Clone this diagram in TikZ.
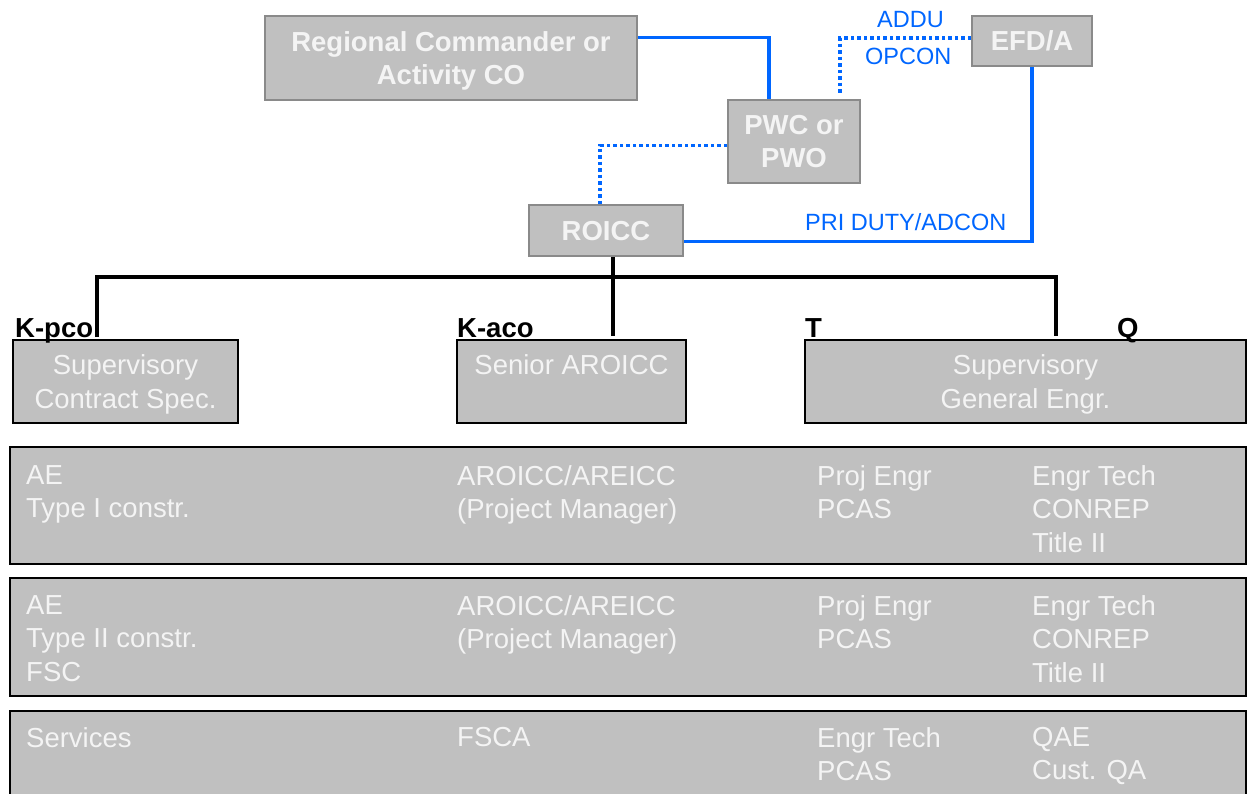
\documentclass[tikz,border=0pt]{standalone}
\usepackage{fontspec}
\setmainfont{Liberation Sans}
\usetikzlibrary{positioning}
\definecolor{boxgray}{HTML}{C0C0C0}
\definecolor{edgegray}{HTML}{8A8A8A}
\definecolor{linkblue}{HTML}{0066FF}
\definecolor{boxtext}{HTML}{F4F4F4}
\newcommand{\bigfont}{\fontsize{27.5}{33.5}\selectfont}
\newcommand{\tagfont}{\fontsize{23.5}{28}\selectfont}

\begin{document}
\begin{tikzpicture}[x=1pt,y=-1pt,
 head/.style={draw=edgegray,line width=2pt,fill=boxgray,text=boxtext,font=\bigfont\bfseries,align=center,inner sep=0pt,text depth=0pt},
 unit/.style={draw=black,line width=2pt,fill=boxgray,text=boxtext,font=\bigfont,align=center,inner sep=0pt,text depth=0pt},
 col/.style={anchor=north west,align=left,inner sep=0pt,text=boxtext,font=\bigfont},
 tag/.style={anchor=base west,inner sep=0pt,text=linkblue,font=\tagfont},
 role/.style={anchor=base west,inner sep=0pt,font=\bigfont\bfseries},
 link/.style={draw=linkblue,line width=3.5pt},
 dotlink/.style={draw=linkblue,line width=3.5pt,dash pattern=on 3.5pt off 3pt},
 tie/.style={draw=black,line width=4pt}]
\useasboundingbox (0,0) rectangle (1248,793);
\clip (0,0) rectangle (1248,793);
\node[head,minimum width=372,minimum height=84](rc) at (451,58){Regional Commander or\\Activity CO};
\node[head,minimum width=132,minimum height=83](pwc) at (794,141.5){PWC or\\PWO};
\node[head,minimum width=120,minimum height=50](efd) at (1032,41){EFD/A};
\node[head,minimum width=154,minimum height=51](roicc) at (606,230.5){ROICC};
\node[unit,minimum width=225,minimum height=83](supk) at (125.5,381.5){Supervisory\\Contract Spec.};
\node[unit,minimum width=229,minimum height=83](sen) at (571.5,381.5){Senior AROICC\\\mbox{}};
\node[unit,minimum width=441,minimum height=83](supg) at (1025.5,381.5){Supervisory\\General Engr.};
\node[unit,minimum width=1236,minimum height=117](rowa) at (628,505.5){};
\node[unit,minimum width=1236,minimum height=118](rowb) at (628,637){};
\node[unit,minimum width=1236,minimum height=118](rowc) at (628,770){};
\node[col](a1) at (26,465){AE\\Type I constr.};
\node[col](a2) at (457,465){AROICC/AREICC\\(Project Manager)};
\node[col](a3) at (817,465){Proj Engr\\PCAS};
\node[col](a4) at (1032,465){Engr Tech\\CONREP\\Title II};
\node[col](b1) at (26,595){AE\\Type II constr.\\FSC};
\node[col](b2) at (457,595){AROICC/AREICC\\(Project Manager)};
\node[col](b3) at (817,595){Proj Engr\\PCAS};
\node[col](b4) at (1032,595){Engr Tech\\CONREP\\Title II};
\node[col](c1) at (26,727){Services};
\node[col](c2) at (457,727){FSCA};
\node[col](c3) at (817,727){Engr Tech\\PCAS};
\node[col](c4) at (1032,727){QAE\\Cust. QA};
\node[role](kpco) at (15,337){K-pco};
\node[role](kaco) at (457,337){K-aco};
\node[role](tech) at (805,337){T};
\node[role](qual) at (1117,337){Q};
\node[tag](addu) at (877,27.5){ADDU};
\node[tag](opcon) at (865,64){OPCON};
\node[tag](pri) at (805,230.5){PRI DUTY/ADCON};
\coordinate(hub) at (612.5,277);
\draw[link]([yshift=20.5pt]rc.east)-|([xshift=-25pt]pwc.north);
\draw[dotlink]([yshift=3pt]efd.west)-|([xshift=46pt,yshift=6pt]pwc.north);
\draw[dotlink]([yshift=-4pt]pwc.west)-|([xshift=-6pt]roicc.north);
\draw[link]([yshift=-11pt]roicc.east)-|(efd.south);
\draw[tie]([xshift=6.5pt]roicc.south)--([xshift=6.5pt,yshift=3pt]roicc.south|-sen.north);
\draw[tie]([xshift=-28.5pt,yshift=2pt]supk.north)|-(hub)-|([xshift=30.5pt,yshift=3pt]supg.north);
\end{tikzpicture}
\end{document}
